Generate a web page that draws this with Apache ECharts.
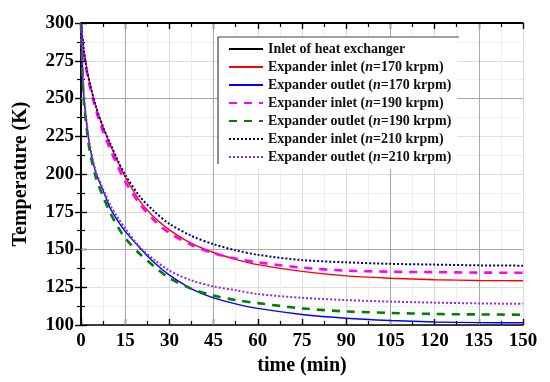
<!DOCTYPE html>
<html>
<head>
<meta charset="utf-8">
<script src="https://cdn.jsdelivr.net/npm/echarts@6/dist/echarts.min.js"></script>
<style>html,body{margin:0;padding:0;background:#fff;}#c{width:550px;height:382px;}</style>
</head>
<body>
<div id="c"></div>
<script>
var times = [0, 0.5, 1, 2, 3, 5, 7.5, 10, 12.5, 15, 20, 25, 30, 37.5, 45, 52.5, 60, 75, 90, 105, 120, 135, 150];
var inletHX   = [300,300,300,300,300,300,300,300,300,300,300,300,300,300,300,300,300,300,300,300,300,300,300];
var inlet170  = [300,290,281,269,260,245,231,219,208,198,182,171,163,154,148,143.5,140,135.5,132.5,131,130,129.5,129.3];
var outlet170 = [300,270,250,232,218,201,189,177,169,162,151,141,133,124,118,114,111,107,104.5,103,102,101.6,101.5];
var inlet190  = [300,289,280,267,258,243,228,216,205,195,180,169,161,153,147.5,144,141.5,138,136,135.3,135,134.7,134.6];
var outlet190 = [300,266,247,229,215,198,185,174,165,157.5,147,138.5,131,124,119.5,116.5,114.5,111,109,108,107.3,107,106.8];
var inlet210  = [300,290,281,269,260,245,231,220,209,199.5,185,175,167,159,153.5,149.5,146.5,143,141.5,140.5,140,139.5,139.3];
var outlet210 = [300,270,251,233,219,202,190,179,171,164,151.5,143,136,129.5,125.5,123,120.5,118,116.5,115.5,114.8,114.3,114];

var xTicks = [0,15,30,45,60,75,90,105,120,135,150];
var yTicks = [100,125,150,175,200,225,250,275,300];
var seriesNames = [
  'Inlet of heat exchanger',
  'Expander inlet (n=170 krpm)',
  'Expander outlet (n=170 krpm)',
  'Expander inlet (n=190 krpm)',
  'Expander outlet (n=190 krpm)',
  'Expander inlet (n=210 krpm)',
  'Expander outlet (n=210 krpm)'
];
var seriesValues = [inletHX, inlet170, outlet170, inlet190, outlet190, inlet210, outlet210];
var seriesColors = ['#000000','#ff0000','#0000ff','#ff00ff','#008000','#000080','#8a2be2'];
var seriesDash = ['solid','solid','solid',[8,7],[8,7],[2,2],[2,2]];
var seriesWidth = [1.8,1.4,1.4,2.6,2.6,2,2];

var FONT = 'Liberation Serif, Times New Roman, serif';
var chart = echarts.init(document.getElementById('c'), null, {renderer:'canvas'});

function pairs(vals){ return times.map(function(t,i){ return [t, vals[i]]; }); }

var series = seriesNames.map(function(n, k){
  return {
    name: n, type: 'line', xAxisIndex: 0, yAxisIndex: 0,
    data: pairs(seriesValues[k]), smooth: 0.3, symbol: 'none', z: 5 + (k===0?10:0),
    lineStyle: {color: seriesColors[k], width: seriesWidth[k], type: seriesDash[k]},
    itemStyle: {color: seriesColors[k]}
  };
});
series.push({
  name: 'grid-dark', type: 'line', data: [], z: 1, silent: true,
  markLine: {
    z: 1, silent: true, symbol: ['none','none'], label: {show:false},
    lineStyle: {color:'#a8a8a8', width:1, type:'solid'},
    data: [{xAxis:15},{xAxis:45},{xAxis:105},{xAxis:135},{yAxis:150},{yAxis:250}]
  }
});

var axisCommon = {
  axisLine: {show:true, lineStyle:{color:'#000', width:1.6}},
  axisTick: {show:true, inside:true, length:6, lineStyle:{color:'#000', width:1.4}},
  minorTick: {show:true, splitNumber:2, length:4, lineStyle:{color:'#000', width:1.2}}
};

chart.setOption({
  animation: false,
  backgroundColor: '#fff',
  grid: {left:81, right:27, top:23, bottom:57, containLabel:false},
  legend: {
    data: seriesNames, orient:'vertical', left:218, top:37, z: 8,
    itemWidth:34, itemHeight:14, itemGap:4,
    padding:[5,6,5,10],
    borderWidth:0, backgroundColor:'#fff',
    itemStyle: {opacity: 0},
    textStyle: {fontFamily: FONT, fontWeight:'bold', fontSize:14, color:'#111',
      rich: {i: {fontFamily: FONT, fontWeight:'bold', fontStyle:'italic', fontSize:14, color:'#111'}}},
    formatter: function(name){ return name.replace('(n=', '({i|n}='); }
  },
  graphic: [
    {type:'polyline', silent:true, z:20, shape:{points:[[218,164],[218,37],[459,37]]},
     style:{stroke:'#444', lineWidth:1.2, fill:null}}
  ],
  xAxis: [
    Object.assign({}, axisCommon, {
      type:'value', min:0, max:150, interval:15, position:'bottom',
      name:'time (min)', nameLocation:'middle', nameGap:29,
      nameTextStyle:{fontFamily:FONT, fontWeight:'bold', fontSize:20, color:'#000'},
      axisLabel:{fontFamily:FONT, fontWeight:'bold', fontSize:19, color:'#000', margin:7},
      splitLine:{show:true, lineStyle:{color:'#dcdcdc', width:1}},
      minorSplitLine:{show:true, lineStyle:{color:'#eeeeee', width:1}}
    }),
    Object.assign({}, axisCommon, {
      type:'value', min:0, max:150, interval:15, position:'top',
      axisLabel:{show:false}, splitLine:{show:false}
    })
  ],
  yAxis: [
    Object.assign({}, axisCommon, {
      type:'value', min:100, max:300, interval:25, position:'left',
      name:'Temperature (K)', nameLocation:'middle', nameGap:50, nameRotate:90,
      nameTextStyle:{fontFamily:FONT, fontWeight:'bold', fontSize:20, color:'#000'},
      axisLabel:{fontFamily:FONT, fontWeight:'bold', fontSize:19, color:'#000', margin:7},
      splitLine:{show:true, lineStyle:{color:'#dcdcdc', width:1}},
      minorSplitLine:{show:true, lineStyle:{color:'#eeeeee', width:1}}
    }),
    Object.assign({}, axisCommon, {
      type:'value', min:100, max:300, interval:25, position:'right',
      axisLabel:{show:false}, splitLine:{show:false}
    })
  ],
  series: series
});
</script>
</body>
</html>
